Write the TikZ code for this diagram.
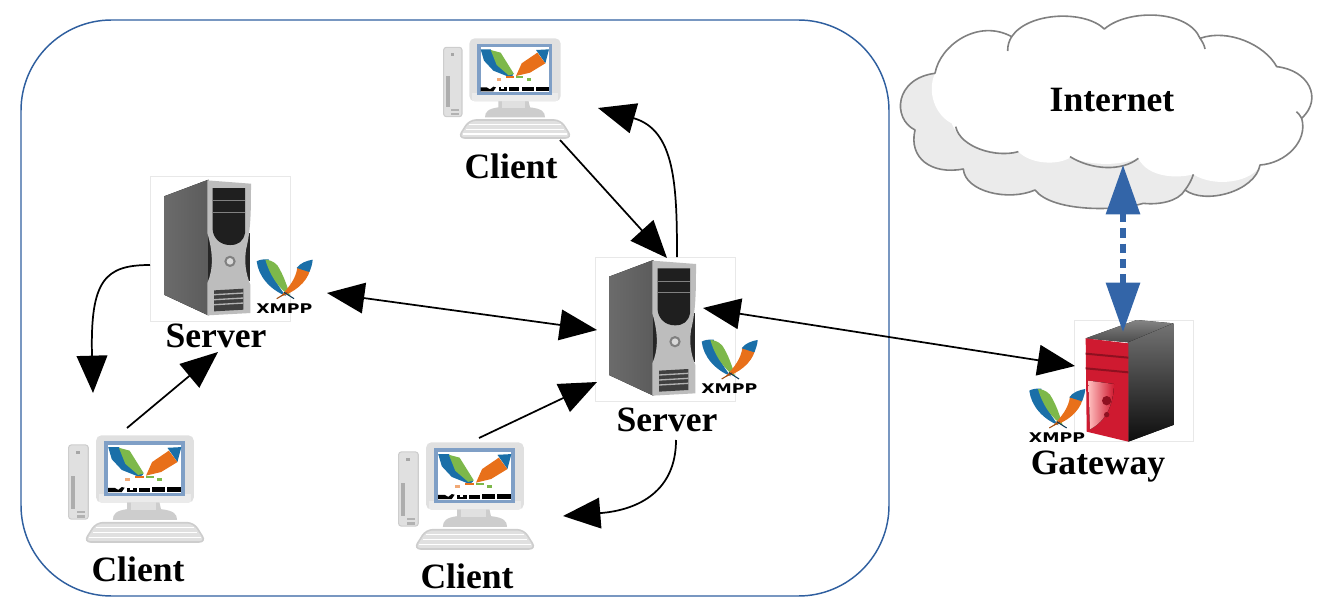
\documentclass[tikz,border=0pt]{standalone}
\usepackage{fontspec}
\setmainfont{Liberation Serif}
\newfontfamily\logofont{DejaVu Sans}
\usetikzlibrary{arrows.meta}
\definecolor{framecol}{HTML}{2F5F9F}
\definecolor{bluearrow}{HTML}{3365A8}
\definecolor{cloudline}{HTML}{808080}
\definecolor{cloudshade}{HTML}{EBEBEB}
\definecolor{xblue}{HTML}{1A6FA8}
\definecolor{xgreen}{HTML}{7DB84A}
\definecolor{xorange}{HTML}{E8701A}
\definecolor{pclight}{HTML}{E0E0E0}
\definecolor{pcmid}{HTML}{CDCDCD}
\definecolor{bezel}{HTML}{7F9FC6}
\definecolor{gatered}{HTML}{CF1A30}
\definecolor{gatedark}{HTML}{8E1020}
\tikzset{
  label text/.style={font=\fontsize{26.7}{30}\selectfont\bfseries, inner sep=0pt},
  link/.style={line width=1.3pt, -{Triangle[length=28pt,width=23pt]}},
  twoway/.style={line width=1.3pt, {Triangle[length=28pt,width=23pt]}-{Triangle[length=28pt,width=23pt]}},
  uplink/.style={line width=3.8pt, bluearrow, dash pattern=on 7pt off 4.5pt,
    {Triangle[length=37pt,width=25pt]}-{Triangle[length=37pt,width=25pt]}},
  icon box/.style={draw=black!9, line width=0.4pt, fill=white, inner sep=0pt, minimum width=#1},
  logo text/.style={font=\logofont\bfseries\fontsize{10}{12}\selectfont, xscale=1.3, inner sep=0pt},
  cloud stroke/.style={cloudline, line width=1.2pt, line join=round}
}
% XMPP logo: drawing units are 1/3 px
\newcommand{\xmpplogo}[3]{%
\begin{scope}[shift={(#2,#3)},x=0.25pt,y=-0.25pt]
  \fill[xblue] (0,10) .. controls (5,55) and (40,95) .. (88,114) .. controls (60,80) and (45,50) .. (36,4) .. controls (22,3) and (8,5) .. cycle;
  \fill[xgreen] (26,5) .. controls (32,5) and (50,8) .. (62,22) .. controls (80,50) and (92,85) .. (100,114) .. controls (70,95) and (40,55) .. cycle;
  \fill[xorange] (122,28) .. controls (118,60) and (100,85) .. (70,116) .. controls (110,105) and (150,75) .. (160,36) -- cycle;
  \fill[xblue] (168,5) .. controls (150,8) and (130,15) .. (120,30) -- (158,42) .. controls (163,30) and (167,18) .. cycle;
  \draw[xorange!70!black, line width=0.8pt] (60,122) -- (92,103);
  \draw[xblue!50!black, line width=0.8pt] (112,122) -- (82,103);
  \node[logo text] (#1) at (83,152) {XMPP};
\end{scope}}
% desktop computer: drawing units are 1/3 px times the scale
\newcommand{\pcicon}[4]{%
\begin{scope}[shift={(#2,#3)},x=#4*0.25pt,y=-#4*0.25pt]
  \coordinate (#1) at (255,180);
  \draw[pcmid, fill=pclight, line width=0.8pt, rounded corners=2pt] (41,52) rectangle (96,260);
  \fill[black!32] (49,138) rectangle (59,232);
  \fill[black!35] (62,68) rectangle (72,78);
  \fill[black!30] (64,236) rectangle (86,244);
  \fill[black!30] (64,248) rectangle (86,256);
  \fill[pcmid] (205,210) -- (295,210) -- (300,232) .. controls (335,236) and (345,245) .. (345,262) -- (165,262) .. controls (165,245) and (175,236) .. (205,232) -- cycle;
  \fill[pclight] (215,212) rectangle (285,235);
  \fill[pclight, rounded corners=4pt] (118,25) rectangle (392,214);
  \fill[black!8] (126,190) rectangle (385,212);
  \fill[bezel] (140,42) rectangle (366,196);
  \fill[white] (152,52) rectangle (357,186);
  \fill[xblue] (152,58) -- (182,58) -- (218,105) -- (250,135) -- (240,142) -- (190,122) -- (162,92) -- cycle;
  \fill[xgreen] (182,60) -- (212,68) -- (252,132) -- (236,136) -- (200,105) -- cycle;
  \fill[xblue] (318,60) -- (357,58) -- (346,100) -- (328,74) -- cycle;
  \fill[xorange] (322,68) -- (346,100) -- (300,128) -- (258,138) -- (275,100) -- cycle;
  \fill[xorange] (228,138) rectangle (252,145);
  \fill[xgreen] (258,138) rectangle (280,145);
  \fill[xorange!60] (200,144) rectangle (212,153);
  \fill[xgreen] (290,144) rectangle (304,153);
  \fill[black] (152,172) -- (170,172) -- (180,178) -- (190,170) -- (198,172) -- (190,184) -- (152,184) -- cycle;
  \fill[black] (206,172) rectangle (232,184);
  \fill[black] (238,172) rectangle (268,184);
  \fill[black] (275,170) rectangle (312,184);
  \fill[black] (318,170) rectangle (357,184);
  \fill[white] (214,170) rectangle (222,177);
  \draw[pcmid, fill=pclight, line width=1.2pt, rounded corners=5pt] (118,270) -- (392,270) -- (426,324) -- (84,324) -- cycle;
  \draw[white, line width=0.8pt] (118,283) -- (392,283) (108,298) -- (402,298) (98,312) -- (412,312);
\end{scope}}
% tower server: origin = corner of a 3x crop
\newcommand{\servericon}[3]{%
\begin{scope}[shift={(#2,#3)},x=0.25pt,y=-0.25pt]
  \node[icon box=105pt, minimum height=108.5pt] (#1) at (227,238) {};
  \fill[left color=black!58, right color=black!64] (57,80) -- (190,30) -- (190,437) -- (57,375) -- cycle;
  \fill[black!85] (188,190) rectangle (316,335);
  \fill[black!26] (187,32) -- (318,42) .. controls (318,120) and (318,180) .. (303,240) .. controls (298,280) and (302,310) .. (316,345) -- (316,430) -- (187,437) -- (187,340) .. controls (205,300) and (205,250) .. (187,190) -- cycle;
  \fill[black!88] (203,55) -- (300,55) -- (300,190) .. controls (295,215) and (280,226) .. (255,226) .. controls (225,226) and (205,205) .. (203,180) -- cycle;
  \draw[black!50, line width=0.6pt] (203,93) -- (300,93) (203,128) -- (300,128);
  \fill[black!50] (255,275) circle[radius=17];
  \fill[black!15] (255,275) circle[radius=10];
  \fill[black!75] (207,362) -- (295,357) -- (295,420) -- (207,425) -- cycle;
  \draw[black!30, line width=1pt] (207,375) -- (295,370) (207,390) -- (295,385) (207,405) -- (295,400);
\end{scope}
\xmpplogo{#1logo}{#2+111.7}{#3+88.3}}
\begin{document}
\begin{tikzpicture}[x=0.75pt,y=-0.75pt]
\useasboundingbox (0,0) rectangle (1320,606);
% domain frame
\node[draw=framecol, line width=1.1pt, rounded corners=68pt, minimum width=651pt, minimum height=432pt, inner sep=0pt] (domain) at (455,308) {};
% cloud
\begin{scope}[shift={(895,15)},x=0.25pt,y=-0.25pt]
  \def\cloudtop{(120,175) .. controls (135,90) and (250,10) .. (350,65)
    .. controls (400,-10) and (570,-15) .. (628,42)
    .. controls (700,-20) and (880,-15) .. (915,70)
    .. controls (1000,40) and (1110,90) .. (1145,155)
    .. controls (1240,165) and (1285,250) .. (1220,310)
    .. controls (1240,380) and (1170,445) .. (1095,450)}
  \fill[cloudshade] \cloudtop
    .. controls (1080,530) and (930,570) .. (870,525)
    .. controls (850,560) and (790,570) .. (745,565)
    .. controls (660,590) and (470,590) .. (420,525)
    .. controls (340,560) and (210,530) .. (205,462)
    .. controls (110,480) and (40,430) .. (60,345)
    .. controls (-10,310) and (0,190) .. (120,175) -- cycle;
  \fill[white] \cloudtop
    .. controls (1075,500) and (960,520) .. (895,478)
    .. controls (850,490) and (760,490) .. (730,430)
    .. controls (660,455) and (590,450) .. (525,428)
    .. controls (490,450) and (410,450) .. (370,410)
    .. controls (300,420) and (200,400) .. (170,325)
    .. controls (120,300) and (95,230) .. (120,175) -- cycle;
  \draw[cloud stroke] \cloudtop
    .. controls (1080,530) and (930,570) .. (870,525)
    .. controls (850,560) and (790,570) .. (745,565)
    .. controls (660,590) and (470,590) .. (420,525)
    .. controls (340,560) and (210,530) .. (205,462)
    .. controls (110,480) and (40,430) .. (60,345)
    .. controls (-10,310) and (0,190) .. (120,175);
  \draw[cloud stroke] (350,65) .. controls (342,78) and (338,90) .. (338,108);
  \draw[cloud stroke] (915,70) .. controls (922,80) and (928,90) .. (930,102);
  \draw[cloud stroke] (1220,310) .. controls (1216,302) and (1210,295) .. (1204,290);
  \draw[cloud stroke] (182,335) .. controls (195,395) and (300,430) .. (370,410);
  \draw[cloud stroke] (525,425) .. controls (590,465) and (680,470) .. (730,430);
  \draw[cloud stroke] (895,478) .. controls (890,495) and (880,512) .. (870,525);
\end{scope}
% computers
\pcicon{pcTop}{430}{30}{1}
\pcicon{pcLeft}{54}{426.4}{1.07}
\pcicon{pcMid}{384}{433.4}{1.07}
% servers
\servericon{srvLeft}{145}{169.7}
\servericon{srvMid}{590}{250}
% gateway
\begin{scope}[shift={(1020,310)},x=0.25pt,y=-0.25pt]
  \node[icon box=89pt, minimum height=91pt] (gate) at (341,212) {};
  \fill[top color=black!48, bottom color=black!70] (197,85) -- (350,30) -- (460,40) -- (325,97) -- cycle;
  \fill[top color=black!55, bottom color=black!95] (325,97) -- (460,40) -- (460,345) -- (325,395) -- cycle;
  \fill[gatered] (197,85) -- (325,100) -- (325,395) -- (200,365) -- cycle;
  \fill[gatedark] (197,128) -- (325,140) -- (325,146) -- (197,134) -- cycle;
  \fill[gatedark] (197,172) -- (325,184) -- (325,190) -- (197,178) -- cycle;
  \fill[left color=red!25, right color=gatered] (205,212) -- (282,222) .. controls (280,280) and (262,330) .. (210,358) -- cycle;
  \fill[gatedark] (260,272) circle[radius=14];
  \fill[gatedark] (260,314) circle[radius=8];
\end{scope}
\xmpplogo{gateLogo}{1029.3}{387.3}
% labels
\node[label text] (lblInternet) at (1112,100) {Internet};
\node[label text] (lblClientTop) at (511,166) {Client};
\node[label text] (lblServerLeft) at (216,336) {Server};
\node[label text] (lblServerMid) at (667,420) {Server};
\node[label text] (lblGateway) at (1098,467) {Gateway};
\node[label text] (lblClientLeft) at (138,569) {Client};
\node[label text] (lblClientMid) at (467,576) {Client};
% connector ends
\coordinate (pcTopOut) at (560,140);
\coordinate (srvMidTopIn) at (667,258);
\coordinate (srvMidTopOut) at (677,257);
\coordinate (pcTopIn) at (598,108);
\coordinate (srvLeftE) at (327,293);
\coordinate (srvMidW) at (597,330);
\coordinate (srvMidE) at (703,308);
\coordinate (gateW) at (1075,366);
\coordinate (pcLeftOut) at (127,428);
\coordinate (srvLeftIn) at (218,352);
\coordinate (srvLeftW) at (150,265);
\coordinate (pcLeftIn) at (93,393);
\coordinate (pcMidOut) at (479,438);
\coordinate (srvMidIn) at (597,382);
\coordinate (srvMidBottom) at (676,440);
\coordinate (pcMidIn) at (563,516);
\coordinate (cloudIn) at (1123,165);
\coordinate (gateTop) at (1123,332);
% connectors
\draw[link] (pcTopOut) -- (srvMidTopIn);
\draw[link] (srvMidTopOut) .. controls (677,185) and (675,130) .. (pcTopIn);
\draw[twoway] (srvLeftE) -- (srvMidW);
\draw[twoway] (srvMidE) -- (gateW);
\draw[link] (pcLeftOut) -- (srvLeftIn);
\draw[link] (srvLeftW) .. controls (105,265) and (90,280) .. (pcLeftIn);
\draw[link] (pcMidOut) -- (srvMidIn);
\draw[link] (srvMidBottom) .. controls (676,490) and (640,510) .. (pcMidIn);
\draw[uplink] (cloudIn) -- (gateTop);
\end{tikzpicture}
\end{document}
